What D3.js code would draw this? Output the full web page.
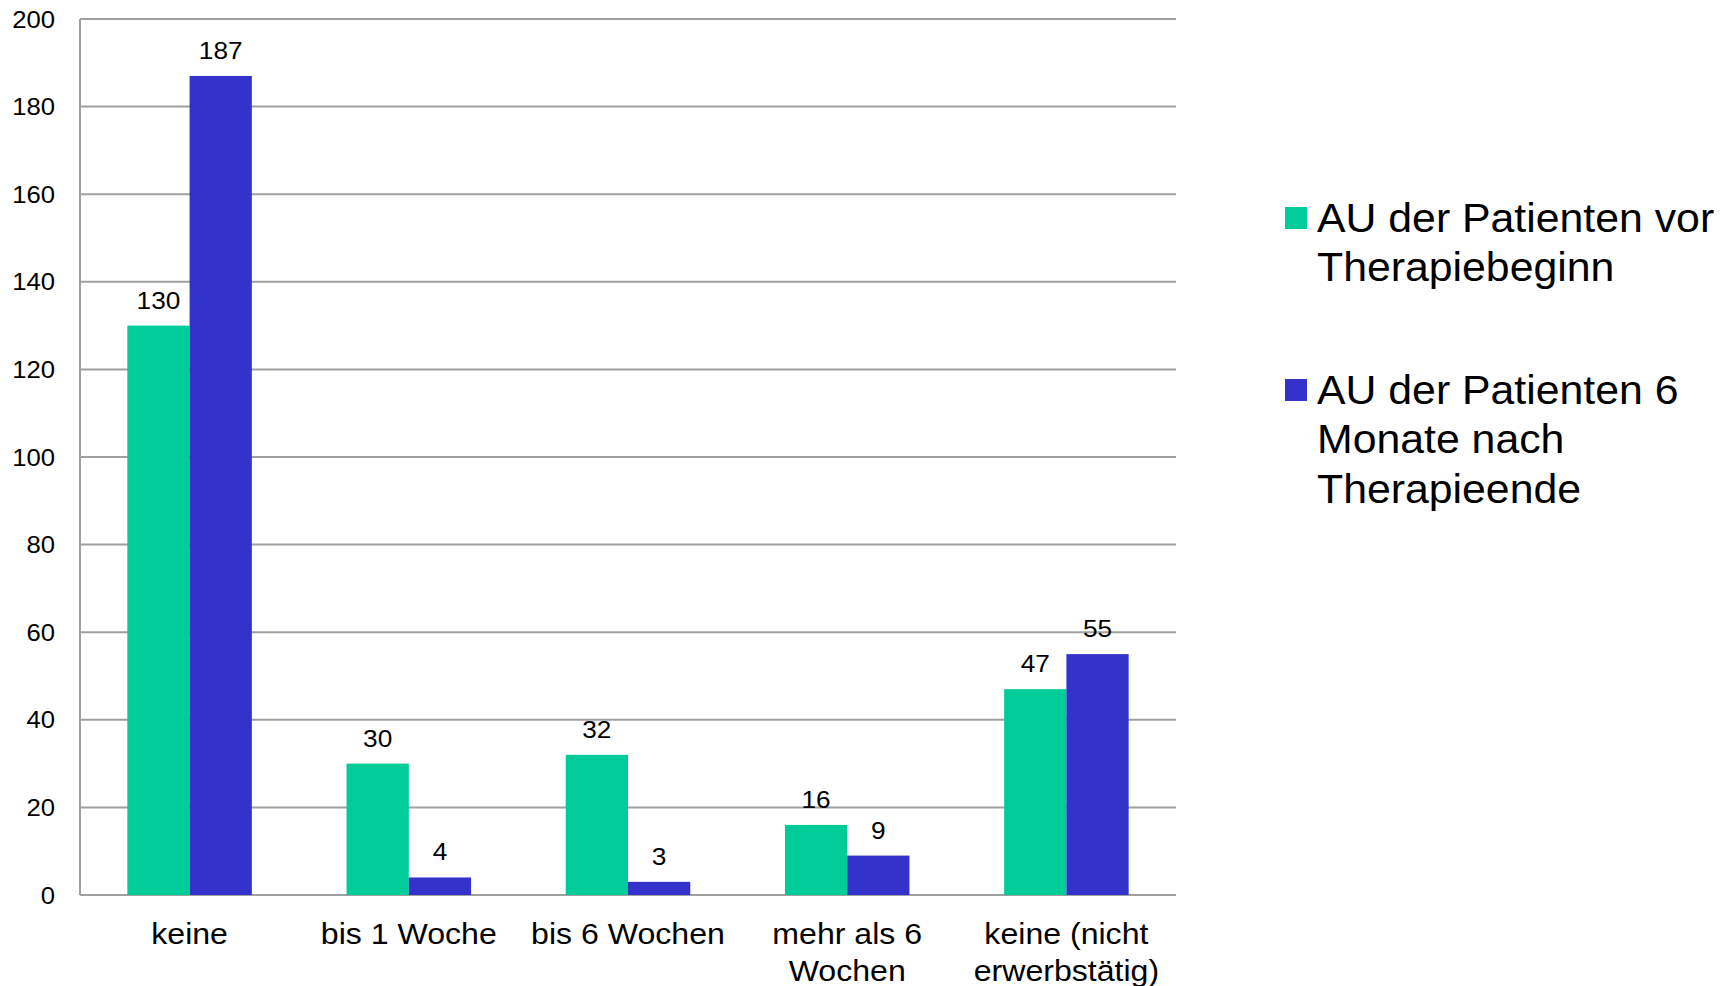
<!DOCTYPE html>
<html>
<head>
<meta charset="utf-8">
<script src="https://cdn.jsdelivr.net/npm/d3@7"></script>
<style>
  html, body { margin: 0; padding: 0; background: #fff; }
  svg { display: block; font-family: "Liberation Sans", Arial, sans-serif; }
</style>
</head>
<body>
<svg id="chart" width="1726" height="986"></svg>
<script>
// Arbeitsunfähigkeit (AU) vor und nach der Therapie
const categories = ["keine", "bis 1 Woche", "bis 6 Wochen", "mehr als 6\nWochen", "keine (nicht\nerwerbstätig)"];
const seriesNames = ["AU der Patienten vor\nTherapiebeginn", "AU der Patienten 6\nMonate nach\nTherapieende"];
const vorTherapie = [130, 30, 32, 16, 47];
const nachTherapie = [187, 4, 3, 9, 55];
const yTicks = [0, 20, 40, 60, 80, 100, 120, 140, 160, 180, 200];
const colors = ["#00CC99", "#3333CC"];

const series = [vorTherapie, nachTherapie];
const svg = d3.select("#chart");
const plot = { left: 80, right: 1176, top: 19, bottom: 895 };
const stretch = 1.07; // text is set slightly wide

const x = d3.scaleBand()
  .domain(categories)
  .range([plot.left, plot.right])
  .paddingInner(0.432)
  .paddingOuter(0.216);
const xs = d3.scaleBand().domain(d3.range(series.length)).range([0, x.bandwidth()]);
const y = d3.scaleLinear().domain([0, 200]).range([plot.bottom, plot.top]);

// place a text node at (px, py) with horizontal stretch
function placed(sel, px, py) {
  return sel.attr("transform", `translate(${px},${py}) scale(${stretch},1)`);
}

// horizontal gridlines
svg.append("g")
  .selectAll("line")
  .data(yTicks)
  .join("line")
  .attr("x1", plot.left).attr("x2", plot.right)
  .attr("y1", d => y(d)).attr("y2", d => y(d))
  .attr("stroke", "#a0a0a0").attr("stroke-width", 2);

// value axis line
svg.append("line")
  .attr("x1", plot.left).attr("x2", plot.left)
  .attr("y1", y(200)).attr("y2", y(0))
  .attr("stroke", "#a0a0a0").attr("stroke-width", 2);

// value axis labels
svg.append("g")
  .selectAll("text")
  .data(yTicks)
  .join("text")
  .each(function (d) { placed(d3.select(this), plot.left - 25, y(d) + 8.5); })
  .attr("text-anchor", "end")
  .attr("font-size", 24)
  .attr("fill", "#000")
  .text(d => d);

// bars
const groups = svg.append("g")
  .selectAll("g")
  .data(categories)
  .join("g")
  .attr("transform", c => `translate(${x(c)},0)`);

groups.selectAll("rect")
  .data((c, i) => series.map((s, k) => ({ k, v: s[i] })))
  .join("rect")
  .attr("x", d => xs(d.k))
  .attr("width", xs.bandwidth())
  .attr("y", d => y(d.v))
  .attr("height", d => y(0) - y(d.v))
  .attr("fill", d => colors[d.k]);

groups.selectAll("text.value")
  .data((c, i) => series.map((s, k) => ({ k, v: s[i] })))
  .join("text")
  .attr("class", "value")
  .each(function (d) { placed(d3.select(this), xs(d.k) + xs.bandwidth() / 2, y(d.v) - 17); })
  .attr("text-anchor", "middle")
  .attr("font-size", 24.5)
  .attr("fill", "#000")
  .text(d => d.v);

// category labels
const xg = svg.append("g");
categories.forEach(c => {
  const t = placed(xg.append("text"), x(c) + x.bandwidth() / 2, 944)
    .attr("text-anchor", "middle")
    .attr("font-size", 30)
    .attr("fill", "#000");
  c.split("\n").forEach((line, j) => {
    t.append("tspan").attr("x", 0).attr("dy", j ? 37 : 0).text(line);
  });
});

// legend
const legendTop = [207, 379];
const legend = svg.append("g");
seriesNames.forEach((name, k) => {
  legend.append("rect")
    .attr("x", 1285).attr("y", legendTop[k])
    .attr("width", 22).attr("height", 22)
    .attr("fill", colors[k]);
  const t = placed(legend.append("text"), 1317, legendTop[k] + 25)
    .attr("font-size", 40)
    .attr("fill", "#000");
  name.split("\n").forEach((line, j) => {
    t.append("tspan").attr("x", 0).attr("dy", j ? 49.5 : 0).text(line);
  });
});
</script>
</body>
</html>
